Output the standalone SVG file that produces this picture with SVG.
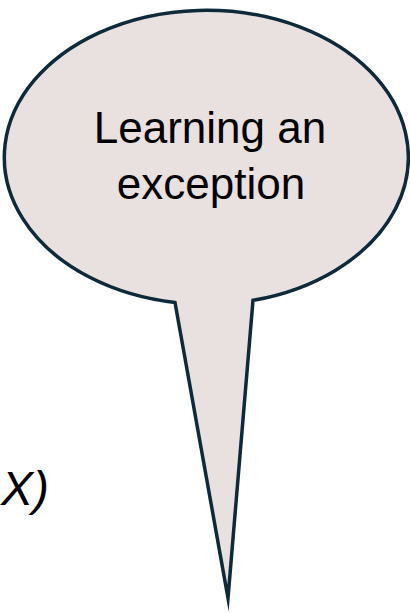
<svg xmlns="http://www.w3.org/2000/svg" width="410" height="613" viewBox="0 0 410 613">
<style>
.bubble{fill:#E9E0E0;stroke:#0E2A3A;stroke-width:3.5;stroke-linejoin:miter;stroke-miterlimit:20}
.lbl{font-family:"Liberation Sans",Arial,sans-serif;font-size:44px;fill:#000;text-anchor:middle}
.side{font-family:"Liberation Sans",Arial,sans-serif;font-size:48px;font-style:italic;fill:#000}
</style>
<rect width="410" height="613" fill="#FFFFFF"/>
<g id="bubble">
<path class="bubble" d="M175,302.5 L228,598 L253,300.3 A202,147 0 1 0 175,302.5 Z"/>
<text class="lbl" x="210" y="143">Learning an</text>
<text class="lbl" x="211" y="199">exception</text>
</g>
<g id="side-text">
<text class="side" x="1" y="505">X)</text>
</g>
</svg>
